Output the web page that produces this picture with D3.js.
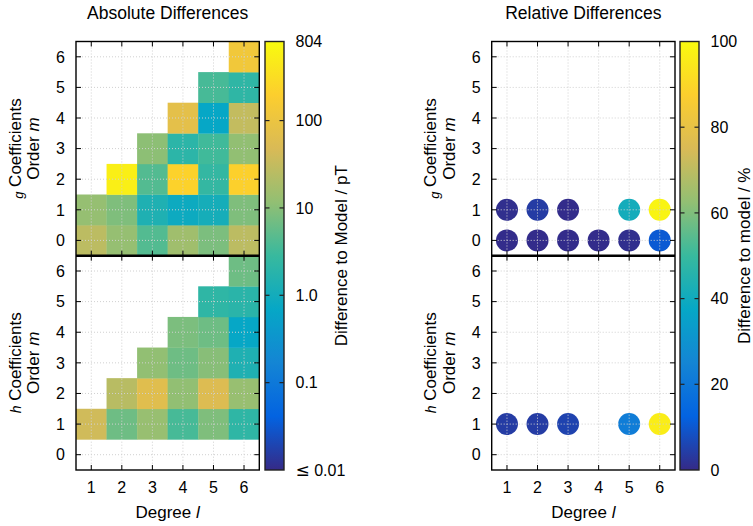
<!DOCTYPE html>
<html><head><meta charset="utf-8">
<script src="https://cdn.jsdelivr.net/npm/d3@7"></script>
<style>
html,body{margin:0;padding:0;background:#fff;}
svg{display:block;font-family:"Liberation Sans",Arial,sans-serif;}
</style></head>
<body><svg id="chart" width="753" height="526"></svg>
<script>
// ---------- data ----------
const degrees = [1, 2, 3, 4, 5, 6];
const orders = [0, 1, 2, 3, 4, 5, 6];
// absolute differences (pT); rows = order m (0..6), columns = degree l (1..6); null = no cell
const gAbs = [
  [27, 12.5, 4.3, 15.5, 8.2, 27],
  [12.5, 8.7, 1.4, 0.85, 1.1, 8.7],
  [null, 560, 4.3, 225, 2.5, 210],
  [null, null, 10.8, 2.0, 3.2, 11.7],
  [null, null, null, 73, 0.69, 31],
  [null, null, null, null, 3.6, 2.2],
  [null, null, null, null, null, 128]
];
const hAbs = [
  [null, null, null, null, null, null],
  [40, 6.6, 13, 3.6, 8.7, 2.2],
  [null, 25, 63, 11.7, 55, 13],
  [null, null, 11.7, 6.6, 10, 1.4],
  [null, null, null, 8.2, 6.6, 0.7],
  [null, null, null, null, 2.2, 1.9],
  [null, null, null, null, null, 6.6]
];
// relative differences (%); rows = order m, columns = degree l
const gRel = [
  [0.5, 0.5, 0.5, 0.5, 1, 10.5],
  [1, 4, 0.5, null, 41, 98]
];
const hRel = [
  [null, null, null, null, null, null],
  [4, 4, 5.5, null, 22, 96]
];
const absTicks = [804, 100, 10, 1, 0.1, 0.01];
const absTickLabels = ["804", "100", "10", "1.0", "0.1", "≤ 0.01"];
const relTicks = [0, 20, 40, 60, 80, 100];
const paletteStops = ["#352a87", "#0363e1", "#1485d4", "#06a7c6", "#38b99e", "#92bf73", "#d9ba56", "#fcce2e", "#f9fb0e"];

// ---------- setup ----------
const svg = d3.select("#chart");
const FONT = 16;
const yTop = 41.5, yMid = 255.7, yBot = 470;
const panels = [
  {x0: 76, x1: 259.3, cb0: 265, cb1: 284, title: "Absolute Differences", type: "abs"},
  {x0: 491.7, x1: 675, cb0: 680, cb1: 699, title: "Relative Differences", type: "rel"}
];
const palette = d3.scaleLinear()
  .domain(paletteStops.map((_, i) => i / 8))
  .range(paletteStops).interpolate(d3.interpolateRgb).clamp(true);
const absNorm = d3.scaleLog().domain([0.01, 804]).range([0, 1]).clamp(true);
const relNorm = d3.scaleLinear().domain([0, 100]).range([0, 1]).clamp(true);

// gradient
const defs = svg.append("defs");
const grad = defs.append("linearGradient").attr("id", "pal")
  .attr("x1", 0).attr("y1", 1).attr("x2", 0).attr("y2", 0);
paletteStops.forEach((c, i) => grad.append("stop").attr("offset", i / 8).attr("stop-color", c));

function cells(mat) {
  const out = [];
  mat.forEach((row, m) => row.forEach((v, i) => { if (v != null) out.push({l: degrees[i], m: orders[m], v}); }));
  return out;
}

panels.forEach(p => {
  const x = d3.scaleLinear().domain([0.5, 6.5]).range([p.x0, p.x1]);
  const subs = [
    {key: "g", y: d3.scaleLinear().domain([-0.5, 6.5]).range([yMid, yTop]),
     data: p.type === "abs" ? gAbs : gRel},
    {key: "h", y: d3.scaleLinear().domain([-0.5, 6.5]).range([yBot, yMid]),
     data: p.type === "abs" ? hAbs : hRel}
  ];
  const color = v => palette(p.type === "abs" ? absNorm(v) : relNorm(v));

  // title
  svg.append("text").attr("x", (p.x0 + p.x1) / 2).attr("y", 18.5)
    .attr("text-anchor", "middle").attr("font-size", 17.5).attr("fill", "#000").text(p.title);

  subs.forEach(s => {
    const y = s.y;
    const g = svg.append("g");
    const d = cells(s.data);
    if (p.type === "abs") {
      g.selectAll("rect").data(d).join("rect")
        .attr("x", c => x(c.l - 0.5)).attr("y", c => y(c.m + 0.5))
        .attr("width", c => x(c.l + 0.5) - x(c.l - 0.5) + 0.3)
        .attr("height", c => y(c.m - 0.5) - y(c.m + 0.5) + 0.3)
        .attr("fill", c => color(c.v));
    } else {
      g.selectAll("circle").data(d).join("circle")
        .attr("cx", c => x(c.l)).attr("cy", c => y(c.m)).attr("r", 11)
        .attr("fill", c => color(c.v));
    }
    // grid
    const grid = svg.append("g").attr("stroke", "#d0d0d0").attr("stroke-width", 1).attr("stroke-dasharray", "1,2");
    degrees.forEach(l => grid.append("line").attr("x1", x(l)).attr("x2", x(l))
      .attr("y1", y.range()[1]).attr("y2", y.range()[0]));
    orders.forEach(m => grid.append("line").attr("y1", y(m)).attr("y2", y(m))
      .attr("x1", p.x0).attr("x2", p.x1));
    // ticks on all four sides
    const tk = svg.append("g").attr("stroke", "#000").attr("stroke-width", 1);
    const yT = y.range()[1], yB = y.range()[0];
    degrees.forEach(l => {
      tk.append("line").attr("x1", x(l)).attr("x2", x(l)).attr("y1", yB).attr("y2", yB - 5);
      tk.append("line").attr("x1", x(l)).attr("x2", x(l)).attr("y1", yT).attr("y2", yT + 5);
    });
    orders.forEach(m => {
      tk.append("line").attr("y1", y(m)).attr("y2", y(m)).attr("x1", p.x0).attr("x2", p.x0 + 5);
      tk.append("line").attr("y1", y(m)).attr("y2", y(m)).attr("x1", p.x1).attr("x2", p.x1 - 5);
    });
    // y tick labels
    svg.append("g").selectAll("text").data(orders).join("text")
      .attr("x", p.x0 - 11).attr("y", m => y(m)).attr("dy", "0.36em")
      .attr("text-anchor", "end").attr("font-size", FONT).text(m => m);
    // y axis label (two lines, rotated)
    const cy = (yT + yB) / 2;
    const t1 = svg.append("text").attr("transform", `translate(${p.x0 - 55.5},${cy}) rotate(-90)`)
      .attr("text-anchor", "middle").attr("font-size", 17);
    if (s.key === "g") {
      t1.append("tspan").attr("font-style", "italic").attr("font-size", 13).attr("dy", 2.5).text("g");
      t1.append("tspan").attr("dy", -2.5).text(" Coefficients");
    } else {
      t1.append("tspan").attr("font-style", "italic").attr("font-size", 14).text("h");
      t1.append("tspan").text(" Coefficients");
    }
    const t2 = svg.append("text").attr("transform", `translate(${p.x0 - 37},${cy}) rotate(-90)`)
      .attr("text-anchor", "middle").attr("font-size", 17);
    t2.append("tspan").text("Order ");
    t2.append("tspan").attr("font-style", "italic").text("m");
  });

  // frame
  svg.append("rect").attr("x", p.x0).attr("y", yTop).attr("width", p.x1 - p.x0).attr("height", yBot - yTop)
    .attr("fill", "none").attr("stroke", "#000").attr("stroke-width", 1.4);
  svg.append("line").attr("x1", p.x0).attr("x2", p.x1).attr("y1", yMid).attr("y2", yMid)
    .attr("stroke", "#000").attr("stroke-width", 2.4);

  // x tick labels
  svg.append("g").selectAll("text").data(degrees).join("text")
    .attr("x", l => x(l)).attr("y", 493).attr("text-anchor", "middle").attr("font-size", FONT).text(l => l);
  const xl = svg.append("text").attr("x", (p.x0 + p.x1) / 2).attr("y", 518)
    .attr("text-anchor", "middle").attr("font-size", 17);
  xl.append("tspan").text("Degree ");
  xl.append("tspan").attr("font-style", "italic").text("l");

  // colorbar
  svg.append("rect").attr("x", p.cb0).attr("y", yTop).attr("width", p.cb1 - p.cb0).attr("height", yBot - yTop)
    .attr("fill", "url(#pal)").attr("stroke", "#222").attr("stroke-width", 1.4);
  let cbScale, ticks, labels;
  if (p.type === "abs") {
    cbScale = d3.scaleLog().domain([0.01, 804]).range([yBot, yTop]);
    ticks = absTicks; labels = absTickLabels;
  } else {
    cbScale = d3.scaleLinear().domain([0, 100]).range([yBot, yTop]);
    ticks = relTicks; labels = relTicks.map(String);
  }
  const ctk = svg.append("g").attr("stroke", "#222").attr("stroke-width", 1.2);
  ticks.forEach((t, i) => {
    const yy = cbScale(t);
    if (yy > yTop + 1 && yy < yBot - 1) {
      ctk.append("line").attr("x1", p.cb0).attr("x2", p.cb0 + 4.5).attr("y1", yy).attr("y2", yy);
      ctk.append("line").attr("x1", p.cb1).attr("x2", p.cb1 - 4.5).attr("y1", yy).attr("y2", yy);
    }
    const lab = svg.append("text").attr("x", p.cb1 + 11.5).attr("y", yy).attr("dy", "0.36em")
      .attr("font-size", FONT);
    const txt = labels[i];
    if (txt.startsWith("≤")) {
      lab.append("tspan").attr("font-family", "DejaVu Sans").attr("font-size", 17).text("≤");
      lab.append("tspan").text(txt.slice(1));
    } else {
      lab.text(txt);
    }
  });
  const cbl = p.type === "abs" ? "Difference to Model / pT" : "Difference to model / %";
  const cbx = p.type === "abs" ? 346.5 : 750;
  svg.append("text").attr("transform", `translate(${cbx},${(yTop + yBot) / 2}) rotate(-90)`)
    .attr("text-anchor", "middle").attr("font-size", 17).text(cbl);
});
</script></body></html>
